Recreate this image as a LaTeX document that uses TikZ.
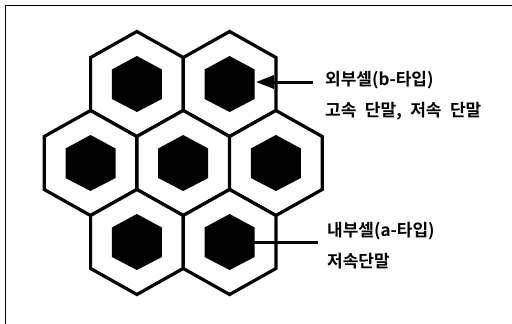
\documentclass[tikz,border=0pt]{standalone}
\usepackage{fontspec}
\newfontfamily\kr{Noto Sans CJK KR}[BoldFont={Noto Sans CJK KR Bold}]
\usetikzlibrary{arrows.meta}
\begin{document}
\begin{tikzpicture}[x=1pt,y=-1pt,
  outerhex/.style={line width=3.2pt,line join=miter,fill=white},
  innerhex/.style={fill=black},
  conn/.style={line width=3pt},
  lbl/.style={anchor=base west,inner sep=0pt,font=\kr\bfseries\fontsize{17}{19}\selectfont}]
\useasboundingbox (0,0) rectangle (512,324);
\draw[line width=1.4pt] (5.5,324) -- (5.5,5.5) -- (512,5.5);
\newcommand\cellhex[2]{%
  \draw[outerhex] (#1,#2-52.5) -- (#1+46.3,#2-26.5) -- (#1+46.3,#2+26.5) -- (#1,#2+52.5) -- (#1-46.3,#2+26.5) -- (#1-46.3,#2-26.5) -- cycle;
  \fill[innerhex] (#1,#2-28) -- (#1+25,#2-14.5) -- (#1+25,#2+15) -- (#1,#2+28) -- (#1-25,#2+15) -- (#1-25,#2-14.5) -- cycle;}
\cellhex{136.9}{84}
\cellhex{229.6}{84}
\cellhex{90.5}{163}
\cellhex{183.2}{163}
\cellhex{275.9}{163}
\cellhex{136.9}{242}
\cellhex{229.6}{242}
\node[lbl] (b1) at (325,85) {외부셀(b-타입)};
\node[lbl] (b2) at (325,116) {고속\hspace{0.5em}단말,\hspace{0.5em}저속\hspace{0.5em}단말};
\node[lbl] (a1) at (327,236) {내부셀(a-타입)};
\node[lbl] (a2) at (327,267) {저속단말};
\coordinate (bstart) at (313,82);
\coordinate (btip) at (256,82);
\coordinate (astart) at (318,242.5);
\coordinate (aend) at (251.5,242.5);
\draw[conn,-{Triangle[length=18pt,width=13pt]}] (bstart) -- (btip);
\draw[conn] (astart) -- (aend);
\end{tikzpicture}
\end{document}
